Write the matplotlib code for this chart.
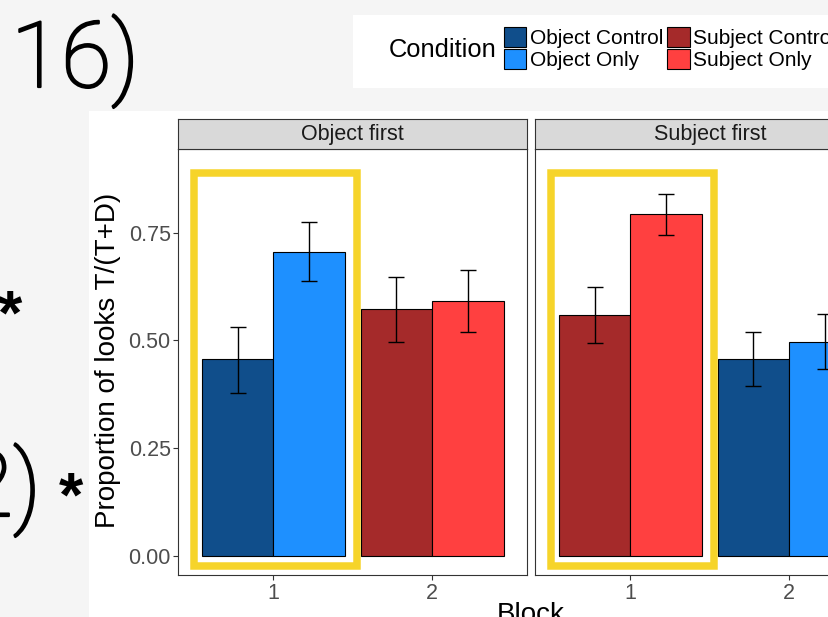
import matplotlib.pyplot as plt
import matplotlib.patheffects as pe
from matplotlib.patches import Patch, Rectangle

plt.rcParams["font.family"] = ["Liberation Sans", "DejaVu Sans"]

# data
facets = ['Object first', 'Subject first']
blocks = [1, 1, 2, 2]

obj_first_cond = ['Object Control', 'Object Only', 'Subject Control', 'Subject Only']
obj_first_mean = [0.456, 0.706, 0.572, 0.592]
obj_first_lo = [0.378, 0.638, 0.497, 0.520]
obj_first_hi = [0.532, 0.775, 0.648, 0.662]

subj_first_cond = ['Subject Control', 'Subject Only', 'Object Control', 'Object Only']
subj_first_mean = [0.558, 0.794, 0.457, 0.497]
subj_first_lo = [0.493, 0.745, 0.394, 0.433]
subj_first_hi = [0.623, 0.840, 0.520, 0.561]

conditions = ['Object Control', 'Object Only', 'Subject Control', 'Subject Only']
colors = {'Object Control': '#104E8B', 'Object Only': '#1E90FF',
          'Subject Control': '#A52A2A', 'Subject Only': '#FF4040'}

yticks = [0.00, 0.25, 0.50, 0.75]
ytick_labels = ['0.00', '0.25', '0.50', '0.75']

W, H = 829, 617
fig = plt.figure(figsize=(W / 100, H / 100), dpi=100, facecolor='#f5f5f5')


def px_rect(x0, y0, x1, y1):
    return [x0 / W, 1 - y1 / H, (x1 - x0) / W, (y1 - y0) / H]


# white area of the pasted plot and of the legend
fig.patches.append(Rectangle((89 / W, 0), 1, 1 - 111 / H, transform=fig.transFigure,
                             facecolor='white', edgecolor='none', zorder=-1))
fig.patches.append(Rectangle((353 / W, 1 - 88 / H), 1, 73 / H, transform=fig.transFigure,
                             facecolor='white', edgecolor='none', zorder=-1))

panels = [
    (facets[0], obj_first_cond, obj_first_mean, obj_first_lo, obj_first_hi, 178.3),
    (facets[1], subj_first_cond, subj_first_mean, subj_first_lo, subj_first_hi, 535.3),
]

for k, (name, cond, mean, lo, hi, left) in enumerate(panels):
    ax = fig.add_axes(px_rect(left, 149, left + 349, 575))
    xs = [b + (i % 2 - 0.5) * 0.45 for i, b in enumerate(blocks)]
    ax.bar(xs, mean, width=0.45, color=[colors[c] for c in cond],
           edgecolor='black', linewidth=0.8, zorder=2)
    ax.errorbar(xs, mean, yerr=[[m - l for m, l in zip(mean, lo)], [h - m for m, h in zip(mean, hi)]],
                fmt='none', ecolor='black', elinewidth=1.0, capsize=5.6, capthick=1.0, zorder=3)
    # highlight box around block 1
    ax.add_patch(Rectangle((0.498, -0.023), 1.027, 0.912, fill=False,
                           edgecolor='#F6D42A', linewidth=5.4, zorder=4, clip_on=False))
    ax.set_xlim(0.4, 2.6)
    ax.set_ylim(-0.0448, 0.944)
    ax.set_xticks([1, 2])
    ax.set_xticklabels(['1', '2'])
    ax.set_yticks(yticks)
    if k == 0:
        ax.set_yticklabels(ytick_labels)
    else:
        ax.tick_params(axis='y', left=False, labelleft=False)
    ax.tick_params(colors='#333333', labelcolor='#4D4D4D', labelsize=15.5,
                   length=3.5, width=0.8, pad=2)
    for s in ax.spines.values():
        s.set_color('#333333')
        s.set_linewidth(0.8)

    strip = fig.add_axes(px_rect(left, 119, left + 349, 149))
    strip.set_facecolor('#D9D9D9')
    strip.set_xticks([])
    strip.set_yticks([])
    for s in strip.spines.values():
        s.set_color('#333333')
        s.set_linewidth(0.8)
    strip.text(0.5, 0.47, name, ha='center', va='center', fontsize=15.5,
               color='#1A1A1A', transform=strip.transAxes)

# axis titles
fig.text(108 / W, 1 - 360 / H, 'Proportion of looks T/(T+D)', rotation=90,
         ha='center', va='center', fontsize=20, color='black')
fig.text(531 / W, 1 - 622 / H, 'Block', ha='center', va='baseline', fontsize=20, color='black')

# legend
fig.text(389 / W, 1 - 50 / H, 'Condition', ha='left', va='center', fontsize=18.4)
handles = [Patch(facecolor=colors[c], edgecolor='black', linewidth=0.8) for c in conditions]
fig.legend(handles, conditions, ncol=2, loc='upper left', bbox_to_anchor=(504 / W, 1 - 27 / H),
           frameon=False, fontsize=15, handlelength=1.08, handleheight=1.08,
           handletextpad=0.15, columnspacing=0.2, labelspacing=0.04, borderpad=0,
           borderaxespad=0)

# slide text around the pasted plot (light face, slightly thickened)
thick = [pe.withStroke(linewidth=1.6, foreground='black')]
fig.text(11 / W, 1 - 87 / H, '16)', ha='left', va='baseline', fontsize=66,
         family=['Roboto', 'DejaVu Sans'], fontweight='light', path_effects=thick)
fig.text(41 / W, 1 - 516 / H, '2)', ha='right', va='baseline', fontsize=66,
         family=['Roboto', 'DejaVu Sans'], fontweight='light', path_effects=thick)
fig.text(-2 / W, 1 - 333 / H, '*', ha='left', va='baseline', fontsize=45, fontweight='bold')
fig.text(59 / W, 1 - 515 / H, '*', ha='left', va='baseline', fontsize=45, fontweight='bold')

fig.savefig('out.png', dpi=100, facecolor=fig.get_facecolor())
